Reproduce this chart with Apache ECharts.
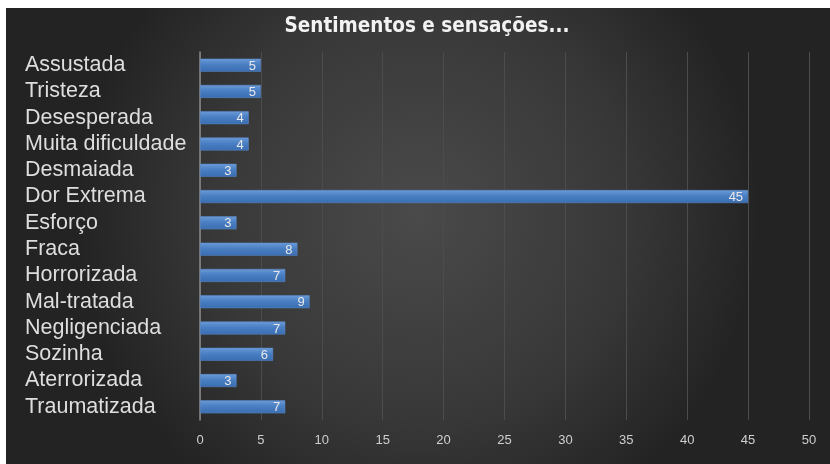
<!DOCTYPE html>
<html><head><meta charset="utf-8">
<script src="https://cdn.jsdelivr.net/npm/echarts@6/dist/echarts.min.js"></script>
<style>html,body{margin:0;padding:0;background:#fff}#c{width:830px;height:464px}</style>
</head><body><div id="c"></div>
<script>
const titleText = 'Sentimentos e sensações...';
const categories = ['Assustada','Tristeza','Desesperada','Muita dificuldade','Desmaiada','Dor Extrema','Esforço','Fraca','Horrorizada','Mal-tratada','Negligenciada','Sozinha','Aterrorizada','Traumatizada'];
const values = [5,5,4,4,3,45,3,8,7,9,7,6,3,7];
const xTicks = {min:0, max:50, interval:5};

const chart = echarts.init(document.getElementById('c'), null, {renderer:'canvas'});
chart.setOption({
  backgroundColor:'#ffffff',
  animation:false,
  graphic:[{
    type:'rect', z:-10, silent:true,
    shape:{x:6,y:8,width:824,height:456},
    style:{fill:new echarts.graphic.RadialGradient(0.5,0.45,0.75,[
      {offset:0,color:'#4a4a4a'},{offset:0.6,color:'#383838'},{offset:1,color:'#232323'}])}
  }],
  title:{
    text:titleText, left:422, textAlign:'center', top:11,
    textStyle:{color:'#f2f2f2', fontSize:20.5, fontWeight:'bold', fontFamily:'DejaVu Sans Condensed, Liberation Sans Narrow, sans-serif'}
  },
  grid:{left:200, right:21, top:52, bottom:44, containLabel:false},
  xAxis:{
    type:'value', min:xTicks.min, max:xTicks.max, interval:xTicks.interval,
    axisLine:{show:false}, axisTick:{show:false},
    splitLine:{show:true, lineStyle:{color:'#4c4c4c', width:1}},
    axisLabel:{color:'#cfcfcf', fontSize:13, margin:14, fontFamily:'Liberation Sans, Arial, sans-serif'}
  },
  yAxis:{
    type:'category', data:categories, inverse:true,
    axisLine:{show:true, lineStyle:{color:'#8a8a8a', width:1.5}},
    axisTick:{show:false},
    axisLabel:{interval:0, hideOverlap:false, color:'#dedede', fontSize:21.5, align:'left', margin:175, padding:[4,0,0,0], fontFamily:'Liberation Sans, Arial, sans-serif'}
  },
  series:[{
    type:'bar', data:values, barWidth:13,
    itemStyle:{
      color:new echarts.graphic.LinearGradient(0,0,0,1,[
        {offset:0,color:'#6b9bd8'},{offset:0.45,color:'#4a7fc4'},{offset:1,color:'#3a6db0'}]),
      borderColor:'#5a8bcc', borderWidth:0.5
    },
    label:{show:true, position:'insideRight', color:'#e8e8e8', fontSize:13, offset:[0,1], fontFamily:'Liberation Sans, Arial, sans-serif'}
  }]
});
</script></body></html>
